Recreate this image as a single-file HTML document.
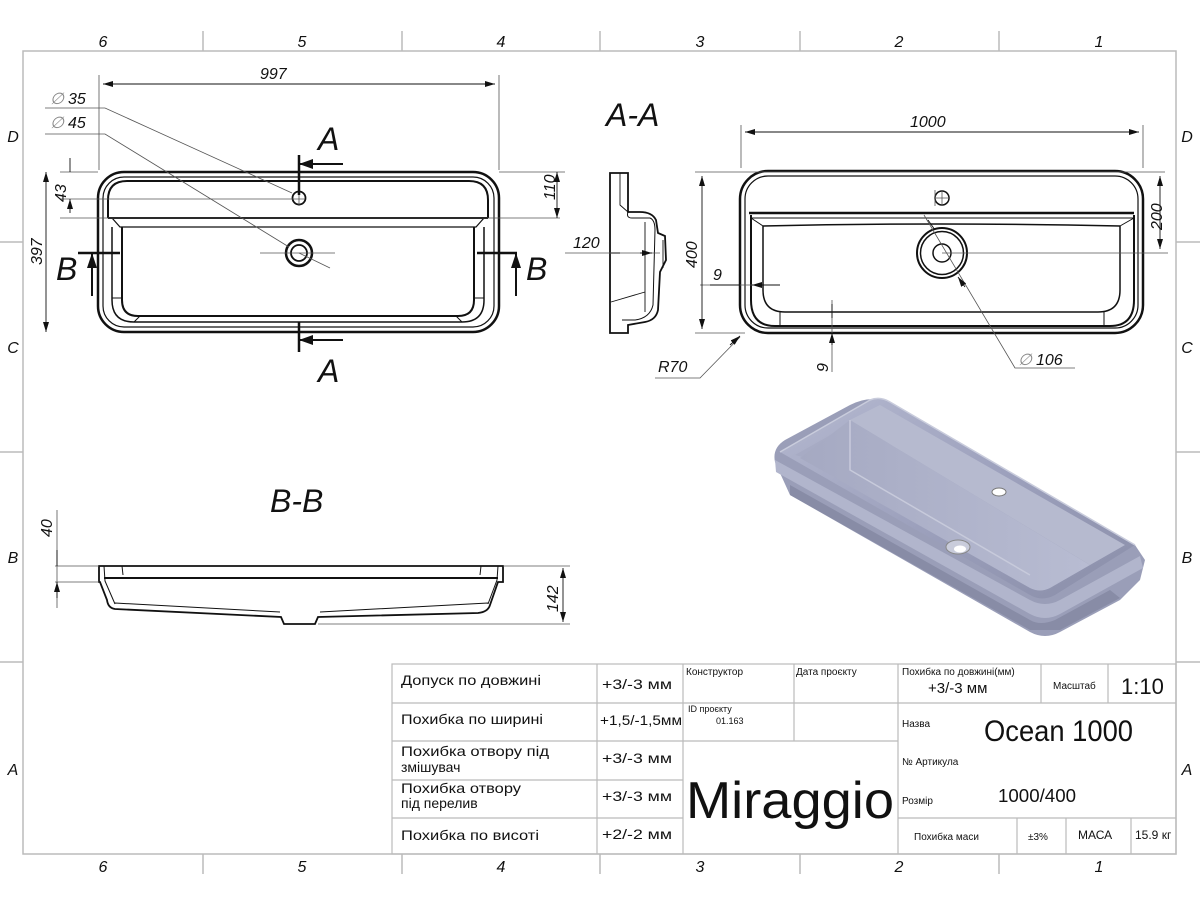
<!DOCTYPE html>
<html><head><meta charset="utf-8"><style>
html,body{margin:0;padding:0;background:#fff;}
svg{display:block;}
.d{font-family:"Liberation Sans",sans-serif;font-style:italic;fill:#111;}
.t{font-family:"Liberation Sans Narrow","Liberation Sans","DejaVu Sans",sans-serif;fill:#111;}
</style></head><body>
<svg width="1200" height="900" viewBox="0 0 1200 900" xmlns="http://www.w3.org/2000/svg">
<defs>
<marker id="ar" viewBox="0 0 10 6" refX="10" refY="3" markerWidth="10" markerHeight="6" orient="auto-start-reverse" markerUnits="userSpaceOnUse"><path d="M0,0L10,3L0,6z" fill="#111"/></marker>
<linearGradient id="g1" x1="0" y1="0" x2="1" y2="1"><stop offset="0" stop-color="#b4b8cf"/><stop offset="0.5" stop-color="#9da1bd"/><stop offset="1" stop-color="#8a8ea9"/></linearGradient>
<linearGradient id="g2" x1="0" y1="0" x2="1" y2="0"><stop offset="0" stop-color="#a5a9c2"/><stop offset="1" stop-color="#b8bcd2"/></linearGradient>
</defs>
<rect width="1200" height="900" fill="#fff"/>
<g stroke="#bbb" stroke-width="1.5" fill="none">
<rect x="23" y="51" width="1153" height="803"/>
<path d="M203 31V51M402 31V51M600 31V51M800 31V51M999 31V51M203 854V874M402 854V874M600 854V874M800 854V874M999 854V874M0 242H23M0 452H23M0 662H23M1176 242H1200M1176 452H1200M1176 662H1200"/>
</g>
<g class="d" font-size="16" text-anchor="middle">
<text x="103" y="47">6</text><text x="302" y="47">5</text><text x="501" y="47">4</text><text x="700" y="47">3</text><text x="899" y="47">2</text><text x="1099" y="47">1</text>
<text x="103" y="872">6</text><text x="302" y="872">5</text><text x="501" y="872">4</text><text x="700" y="872">3</text><text x="899" y="872">2</text><text x="1099" y="872">1</text>
<text x="13" y="142">D</text><text x="13" y="353">C</text><text x="13" y="563">B</text><text x="13" y="775">A</text>
<text x="1187" y="142">D</text><text x="1187" y="353">C</text><text x="1187" y="563">B</text><text x="1187" y="775">A</text>
</g>

<g fill="none" stroke="#111">
<rect x="98" y="172" width="401" height="160" rx="26" stroke-width="2.5"/>
<rect x="103" y="177" width="391" height="150" rx="21" stroke-width="1.2"/>
<path d="M108 218V200Q108 181 127 181H469Q488 181 488 200V218" stroke-width="2"/>
<path d="M108 218H488" stroke-width="2"/>
<path d="M112 218L120 227H476L484 218" stroke-width="1.2"/>
<path d="M112 227V300Q112 322 134 322H462Q484 322 484 300V227" stroke-width="1.5"/>
<path d="M122 227V300Q122 316 138 316H458Q474 316 474 300V227" stroke-width="2"/>
<path d="M112 298L122 298M484 298L474 298M134 322L140 316M462 322L456 316" stroke-width="1"/>
<circle cx="299" cy="198" r="6.5" stroke-width="1.8"/>
<circle cx="299" cy="253" r="13" stroke-width="2.5"/>
<circle cx="299" cy="253" r="8" stroke-width="1.8"/>
</g>
<g stroke="#555" stroke-width="0.8" fill="none">
<path d="M99 170V75M499 170V75M60 172H98M60 199H305M60 218H560M499 172H565M260 253H335M299 190V206"/>
<path d="M45 108H105L292 193M45 134H105L289 247M299 253L330 268"/>
</g>
<g stroke="#111" stroke-width="0.9" fill="none">
<path d="M103 84H495" marker-start="url(#ar)" marker-end="url(#ar)"/>
<path d="M70 158V172M70 213V199" marker-end="url(#ar)"/>
<path d="M46 172V332" marker-start="url(#ar)" marker-end="url(#ar)"/>
<path d="M557 172V218" marker-start="url(#ar)" marker-end="url(#ar)"/>
</g>
<g class="d" font-size="16">
<text x="260" y="79">997</text>
<text x="50" y="104" fill="#888">∅</text><text x="68" y="104">35</text>
<text x="50" y="128" fill="#888">∅</text><text x="68" y="128">45</text>
<text transform="translate(66,202) rotate(-90)">43</text>
<text transform="translate(42,265) rotate(-90)">397</text>
<text transform="translate(555,200) rotate(-90)">110</text>
</g>
<g stroke="#111" stroke-width="2.5" fill="none">
<path d="M299 155V195M299 322V352M78 253H120M477 253H517"/>
<path d="M299 164H343M299 340H343M92 253V296M516 253V296" stroke-width="2"/>
</g>
<g fill="#111"><path d="M299 164L313 159L313 169z"/><path d="M299 340L313 335L313 345z"/><path d="M92 253L87 268L97 268z"/><path d="M516 253L511 268L521 268z"/></g>
<g class="d" font-size="32"><text x="318" y="150">A</text><text x="318" y="382">A</text><text x="56" y="280">B</text><text x="526" y="280">B</text></g>

<text class="d" x="606" y="126" font-size="32">A-A</text>
<g fill="none" stroke="#111" stroke-width="1.8">
<path d="M610 173H628V212H640Q652 212 656 220L658 233L665 236L666 260L660 272L658 310Q656 320 645 322L628 325V333H610Z"/>
<path d="M628 212Q626 218 632 218H650Q655 220 655 230L653 305Q650 318 635 320H622" stroke-width="1"/>
<path d="M620 173V205L628 212M611 302L645 292M645 222V312M663 240V268" stroke-width="0.9"/>
</g>
<g stroke="#555" stroke-width="0.8" fill="none"><path d="M565 253H660"/></g>
<path d="M620 253H611M640 253H652" stroke="#111" stroke-width="0.9" marker-end="url(#ar)" fill="none"/>
<text class="d" x="573" y="248" font-size="16">120</text>

<g fill="none" stroke="#111">
<rect x="740" y="171" width="403" height="162" rx="28" stroke-width="2.5"/>
<rect x="745" y="176" width="393" height="152" rx="23" stroke-width="1.2"/>
<path d="M749 213H1134" stroke-width="2.5"/>
<path d="M750 218H1133" stroke-width="1"/>
<path d="M763 226Q940 222 1120 226" stroke-width="1.5"/>
<path d="M751 215V300Q751 326 775 326H1110Q1134 326 1134 300V215" stroke-width="2"/>
<path d="M763 226V290Q763 312 785 312H1098Q1120 312 1120 290V226" stroke-width="1.5"/>
<path d="M751 218L763 226M1134 218L1120 226M780 312V326M1104 312V326" stroke-width="1"/>
<circle cx="942" cy="198" r="7" stroke-width="1.5"/>
<circle cx="942" cy="253" r="25" stroke-width="2"/>
<circle cx="942" cy="253" r="21.5" stroke-width="1.5"/>
<circle cx="942" cy="253" r="9" stroke-width="1.5"/>
</g>
<g stroke="#555" stroke-width="0.8" fill="none">
<path d="M741 168V125M1143 168V125M695 172H1165M695 333H745M942 253H1168M935 190V206M942 190V206M935 198H949"/>
<path d="M924 215L1015 368H1075M740 337L700 378H655M832 300V372M700 285H770"/>
</g>
<g stroke="#111" stroke-width="0.9" fill="none">
<path d="M745 132H1139" marker-start="url(#ar)" marker-end="url(#ar)"/>
<path d="M702 176V329" marker-start="url(#ar)" marker-end="url(#ar)"/>
<path d="M1160 176V249" marker-start="url(#ar)" marker-end="url(#ar)"/>
<path d="M710 285H740M780 285H752" marker-end="url(#ar)"/>
<path d="M832 304V318M832 345V333" marker-end="url(#ar)"/>
<path d="M928 220L935 230M965 287L958 277" marker-end="url(#ar)"/>
<path d="M730 345L740 336" marker-end="url(#ar)"/>
</g>
<g class="d" font-size="16">
<text x="910" y="127">1000</text>
<text transform="translate(697,268) rotate(-90)">400</text>
<text transform="translate(1162,230) rotate(-90)">200</text>
<text x="713" y="280">9</text>
<text transform="translate(828,372) rotate(-90)">9</text>
<text x="658" y="372">R70</text>
<text x="1018" y="365" fill="#888">∅</text><text x="1036" y="365">106</text>
</g>

<text class="d" x="270" y="512" font-size="32">B-B</text>
<g fill="none" stroke="#111">
<path d="M99 566H503V582H498L490 605Q488 612 478 613L318 617L315 624H284L281 617L115 609Q108 608 107 600L100 582H99Z" stroke-width="1.8"/>
<path d="M104 566L105 581L115 604M498 566L497 580L488 604M110 578H493M122 566L123 575M481 566L480 575M115 603L280 612M320 612L488 603" stroke-width="1"/>
<path d="M104 578H498" stroke-width="2"/>
</g>
<g stroke="#555" stroke-width="0.8" fill="none"><path d="M55 566H99M55 582H99M503 566H570M318 624H570M57 510V608"/></g>
<g stroke="#111" stroke-width="0.9" fill="none">
<path d="M57 550V566M57 598V582" marker-end="url(#ar)"/>
<path d="M563 568V622" marker-start="url(#ar)" marker-end="url(#ar)"/>
</g>
<g class="d" font-size="16">
<text transform="translate(52,537) rotate(-90)">40</text>
<text transform="translate(558,612) rotate(-90)">142</text>
</g>

<g>
<path d="M775 462L790 495L1030 632Q1045 640 1060 632L1120 600L1140 580L1145 560L1135 545L885 402Q870 395 850 405L785 440Q772 448 775 462Z" fill="#9a9eb8"/>
<path d="M790 495L1030 630L1060 630L1120 598L1110 590L1055 620Q1040 626 1030 620L790 485Z" fill="#888ca6"/>
<path d="M775 460L1030 600Q1045 608 1060 600L1140 556L1143 568L1060 614Q1045 622 1030 614L776 472Z" fill="#b1b5cc"/>
<path d="M780 452L870 400Q880 396 890 402L1135 545L1055 595Q1042 602 1030 595Z" fill="url(#g1)"/>
<path d="M795 455L850 424V470Z" fill="#a7abc4"/>
<path d="M850 420L880 405L1125 545L1090 565Z" fill="#b6bacf"/>
<path d="M850 420L1090 565L1050 588Q1040 593 1030 588L800 458Z" fill="url(#g2)"/>
<path d="M850 420V470L1030 575" fill="none" stroke="#c7cadb" stroke-width="1.5"/>
<path d="M780 452L870 400Q880 396 890 402L1135 545" fill="none" stroke="#c9ccdc" stroke-width="1.5"/>
<ellipse cx="999" cy="492" rx="7" ry="4" fill="#fff" stroke="#777" stroke-width="1"/>
<ellipse cx="958" cy="547" rx="12" ry="7" fill="#c9ccdb" stroke="#888" stroke-width="1"/>
<ellipse cx="960" cy="549" rx="6" ry="3.5" fill="#fff"/>
</g>

<g stroke="#bbb" stroke-width="1.2" fill="none">
<rect x="392" y="664" width="784" height="190"/>
<path d="M392 703H898M392 741H898M392 780H683M392 818H683M597 664V854M683 664V854M794 664V741M898 664V854M898 703H1176M898 818H1176M1041 664V703M1108 664V703M1017 818V854M1066 818V854M1131 818V854"/>
</g>
<g class="t" font-size="14">
<text x="401" y="685" textLength="140" lengthAdjust="spacingAndGlyphs">Допуск по довжині</text>
<text x="401" y="724" textLength="142" lengthAdjust="spacingAndGlyphs">Похибка по ширині</text>
<text x="401" y="756" textLength="148" lengthAdjust="spacingAndGlyphs">Похибка отвору під</text>
<text x="401" y="772">змішувач</text>
<text x="401" y="793" textLength="120" lengthAdjust="spacingAndGlyphs">Похибка отвору</text>
<text x="401" y="808">під перелив</text>
<text x="401" y="840" textLength="138" lengthAdjust="spacingAndGlyphs">Похибка по висоті</text>
<text x="602" y="689" textLength="70" lengthAdjust="spacingAndGlyphs">+3/-3 мм</text>
<text x="600" y="725" textLength="82" lengthAdjust="spacingAndGlyphs">+1,5/-1,5мм</text>
<text x="602" y="763" textLength="70" lengthAdjust="spacingAndGlyphs">+3/-3 мм</text>
<text x="602" y="801" textLength="70" lengthAdjust="spacingAndGlyphs">+3/-3 мм</text>
<text x="602" y="839" textLength="70" lengthAdjust="spacingAndGlyphs">+2/-2 мм</text>
<text x="686" y="675" font-size="10">Конструктор</text>
<text x="796" y="675" font-size="10">Дата проєкту</text>
<text x="688" y="712" font-size="9">ID проєкту</text>
<text x="716" y="724" font-size="9">01.163</text>
<text x="686" y="818" font-size="52" textLength="208" lengthAdjust="spacingAndGlyphs">Miraggio</text>
<text x="902" y="675" font-size="10">Похибка по довжині(мм)</text>
<text x="928" y="693" font-size="15">+3/-3 мм</text>
<text x="1053" y="689" font-size="10">Масштаб</text>
<text x="1121" y="694" font-size="22">1:10</text>
<text x="902" y="727" font-size="10">Назва</text>
<text x="984" y="741" font-size="30" textLength="149" lengthAdjust="spacingAndGlyphs">Ocean 1000</text>
<text x="902" y="765" font-size="10">№ Артикула</text>
<text x="998" y="802" font-size="18" textLength="78" lengthAdjust="spacingAndGlyphs">1000/400</text>
<text x="902" y="804" font-size="10">Розмір</text>
<text x="914" y="840" font-size="10">Похибка маси</text>
<text x="1028" y="840" font-size="10">±3%</text>
<text x="1078" y="839" font-size="12">МАСА</text>
<text x="1135" y="839" font-size="12">15.9 кг</text>
</g>
</svg>
</body></html>
